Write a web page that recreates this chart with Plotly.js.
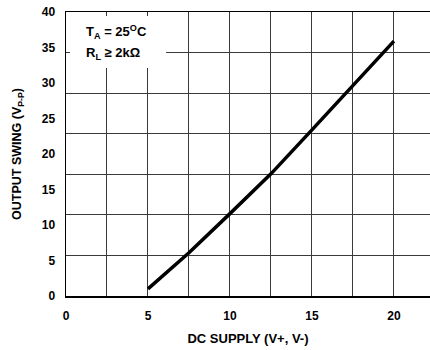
<!DOCTYPE html>
<html>
<head>
<meta charset="utf-8">
<script src="https://cdn.plot.ly/plotly-3.0.1.min.js"></script>
<style>html,body{margin:0;padding:0;background:#fff;overflow:hidden}#chart{width:430px;height:350px}</style>
</head>
<body>
<div id="chart"></div>
<script>
const supplyV = [5, 7.5, 10, 12.5, 15, 17.5, 20];
const swingVpp = [1.0, 6.1, 11.6, 17.2, 23.4, 29.7, 35.9];
const yTickVals = [0, 5, 10, 15, 20, 25, 30, 35, 40];
const xTickVals = [0, 5, 10, 15, 20];
const xTitle = 'DC SUPPLY (V+, V-)';
const yTitle = 'OUTPUT SWING (V<sub>P-P</sub>)';
const noteLines = ['T<sub>A</sub> = 25<sup>O</sup>C', 'R<sub>L</sub> ≥ 2kΩ'];

const fontFam = 'Liberation Sans, Arial, Helvetica, sans-serif';
const gridCol = '#3a3a3a';

Plotly.newPlot('chart', [{
  x: supplyV, y: swingVpp, type: 'scatter', mode: 'lines',
  line: {color: '#000', width: 3.5}, hoverinfo: 'skip', showlegend: false
}], {
  width: 430, height: 350,
  margin: {l: 66, r: 0, t: 12, b: 54},
  paper_bgcolor: '#fff', plot_bgcolor: '#fff',
  font: {family: fontFam, color: '#000', size: 11, weight: 'bold'},
  xaxis: {
    range: [0, 22.2], tickmode: 'array', tickvals: xTickVals,
    showgrid: true, gridcolor: gridCol, gridwidth: 1,
    minor: {dtick: 2.5, tick0: 0, showgrid: true, gridcolor: gridCol, gridwidth: 1},
    showline: true, linecolor: '#000', linewidth: 1.5, mirror: true,
    ticks: '', ticklabelstandoff: 8, zeroline: false,
    tickfont: {size: 12, weight: 'bold'},
    title: {text: xTitle, font: {size: 13, weight: 'bold'}, standoff: 12}
  },
  yaxis: {
    range: [0, 40], tickmode: 'array', tickvals: yTickVals,
    showgrid: false,
    minor: {tickmode: 'linear', tick0: 0, dtick: 40/7, showgrid: true, gridcolor: gridCol, gridwidth: 1},
    showline: true, linecolor: '#000', linewidth: 1.5, mirror: true,
    ticks: '', ticklabelstandoff: 7, zeroline: false,
    tickfont: {size: 12, weight: 'bold'},
    title: {text: yTitle, font: {size: 12.5, weight: 'bold'}, standoff: 17}
  },
  shapes: [{
    type: 'rect', xref: 'paper', yref: 'paper', layer: 'above',
    x0: 0.011, x1: 0.275, y0: 0.803, y1: 0.986,
    fillcolor: '#fff', line: {width: 0}
  }],
  annotations: noteLines.map((t, i) => ({
    xref: 'paper', yref: 'paper', x: 0.05, y: [0.93, 0.853][i],
    xanchor: 'left', yanchor: 'middle',
    text: t, showarrow: false, align: 'left',
    font: {size: 13, weight: 'bold', family: fontFam}
  }))
}, {displayModeBar: false, staticPlot: true});
</script>
</body>
</html>
